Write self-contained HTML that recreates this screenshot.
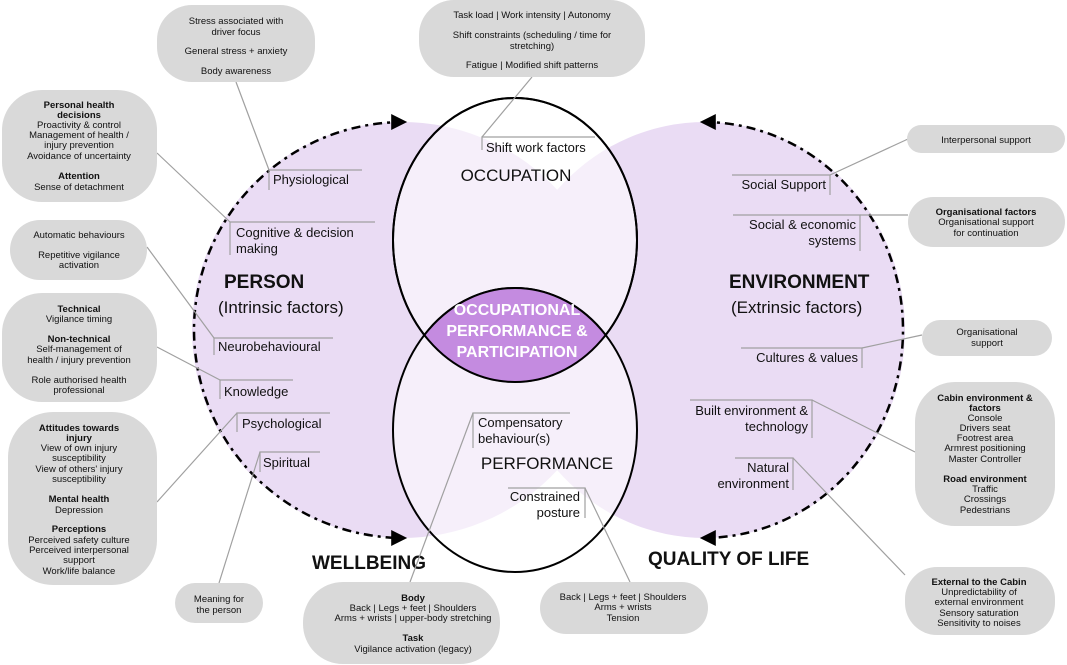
<!DOCTYPE html>
<html><head><meta charset="utf-8"><style>
html,body{margin:0;padding:0;background:#fff;}
svg{display:block;font-family:"Liberation Sans",Arial,sans-serif;}
.b{fill:#d9d9d9;}
.c{stroke:#a0a0a0;stroke-width:1.2;fill:none;}
.t{font-size:9.5px;fill:#111;text-anchor:middle;}
.tb{font-size:9.5px;fill:#111;text-anchor:middle;font-weight:bold;}
.l{font-size:13px;fill:#111;}
.r{font-size:13px;fill:#111;text-anchor:end;}
</style></head><body>
<svg width="1067" height="665" viewBox="0 0 1067 665" xmlns="http://www.w3.org/2000/svg">
<defs>
<marker id="a" viewBox="0 0 10 10" refX="8" refY="5" markerWidth="18" markerHeight="16" orient="auto-start-reverse" markerUnits="userSpaceOnUse"><path d="M0,0 L10,5 L0,10 z" fill="#000"/></marker>
</defs>
<ellipse cx="402" cy="330" rx="210" ry="208" fill="#eadcf4"/>
<ellipse cx="705" cy="330" rx="200" ry="208" fill="#eadcf4"/>
<ellipse cx="515" cy="240" rx="122" ry="142" fill="#fff" fill-opacity="0.55" stroke="#000" stroke-width="2"/>
<ellipse cx="515" cy="430" rx="122" ry="142" fill="#fff" fill-opacity="0.55" stroke="#000" stroke-width="2"/>
<clipPath id="cp"><ellipse cx="515" cy="240" rx="122" ry="142"/></clipPath>
<ellipse cx="515" cy="430" rx="122" ry="142" fill="#c48be0" stroke="#000" stroke-width="2" clip-path="url(#cp)"/>
<ellipse cx="515" cy="240" rx="122" ry="142" fill="none" stroke="#000" stroke-width="2"/>
<path d="M404,122 A210 208 0 0 0 404,538" fill="none" stroke="#000" stroke-width="2.5" stroke-dasharray="9,5,3,5" marker-start="url(#a)" marker-end="url(#a)"/>
<path d="M703,122 A200 208 0 0 1 703,538" fill="none" stroke="#000" stroke-width="2.5" stroke-dasharray="9,5,3,5" marker-start="url(#a)" marker-end="url(#a)"/>

<text x="516" y="181" font-size="17" text-anchor="middle" fill="#111">OCCUPATION</text>
<text x="547" y="469" font-size="17" text-anchor="middle" fill="#111">PERFORMANCE</text>
<g font-size="16" font-weight="bold" fill="#fff" text-anchor="middle">
<text x="517" y="315">OCCUPATIONAL</text>
<text x="517" y="336">PERFORMANCE &amp;</text>
<text x="517" y="357">PARTICIPATION</text>
</g>
<text x="224" y="288" font-size="19" font-weight="bold" fill="#111">PERSON</text>
<text x="218" y="313" font-size="17" fill="#111">(Intrinsic factors)</text>
<text x="729" y="288" font-size="19" font-weight="bold" fill="#111">ENVIRONMENT</text>
<text x="731" y="313" font-size="17" fill="#111">(Extrinsic factors)</text>
<text x="312" y="569" font-size="19" font-weight="bold" fill="#111">WELLBEING</text>
<text x="648" y="565" font-size="19" font-weight="bold" fill="#111">QUALITY OF LIFE</text>

<g class="c">
<path d="M482,150 V137 H595"/>
<path d="M269,190 V170 H362"/>
<path d="M230,255 V222 H375"/>
<path d="M214,355 V338 H333"/>
<path d="M220,399 V380 H293"/>
<path d="M237,432 V413 H330"/>
<path d="M260,472 V452 H320"/>
<path d="M473,448 V413 H570"/>
<path d="M508,488 H585 V518"/>
<path d="M732,175 H830 V195"/>
<path d="M733,215 H860 V251"/>
<path d="M741,348 H862 V368"/>
<path d="M690,400 H812 V438"/>
<path d="M735,458 H793 V490"/>
</g>
<g class="l">
<text x="486" y="152">Shift work factors</text>
<text x="273" y="184">Physiological</text>
<text x="236" y="237">Cognitive &amp; decision</text>
<text x="236" y="253">making</text>
<text x="218" y="351">Neurobehavioural</text>
<text x="224" y="396">Knowledge</text>
<text x="242" y="428">Psychological</text>
<text x="263" y="467">Spiritual</text>
<text x="478" y="427">Compensatory</text>
<text x="478" y="443">behaviour(s)</text>
</g>
<g class="r">
<text x="580" y="501">Constrained</text>
<text x="580" y="517">posture</text>
<text x="826" y="189">Social Support</text>
<text x="856" y="229">Social &amp; economic</text>
<text x="856" y="245">systems</text>
<text x="858" y="362">Cultures &amp; values</text>
<text x="808" y="415">Built environment &amp;</text>
<text x="808" y="431">technology</text>
<text x="789" y="472">Natural</text>
<text x="789" y="488">environment</text>
</g>

<g class="c">
<line x1="236" y1="82" x2="269" y2="170"/>
<line x1="532" y1="77" x2="482" y2="137"/>
<line x1="157" y1="153" x2="230" y2="222"/>
<line x1="147" y1="247" x2="214" y2="338"/>
<line x1="157" y1="347" x2="220" y2="380"/>
<line x1="157" y1="502" x2="237" y2="413"/>
<line x1="219" y1="583" x2="260" y2="452"/>
<line x1="410" y1="582" x2="473" y2="413"/>
<line x1="630" y1="582" x2="585" y2="488"/>
<line x1="908" y1="139" x2="830" y2="175"/>
<line x1="908" y1="215" x2="860" y2="215"/>
<line x1="922" y1="335" x2="862" y2="348"/>
<line x1="915" y1="452" x2="812" y2="400"/>
<line x1="905" y1="575" x2="793" y2="458"/>
</g>

<rect class="b" x="157" y="5" width="158" height="77" rx="35"/>
<text class="t" x="236" y="24">Stress associated with</text>
<text class="t" x="236" y="35">driver focus</text>
<text class="t" x="236" y="54">General stress + anxiety</text>
<text class="t" x="236" y="74">Body awareness</text>

<rect class="b" x="419" y="0" width="226" height="77" rx="35"/>
<text class="t" x="532" y="18">Task load | Work intensity | Autonomy</text>
<text class="t" x="532" y="38">Shift constraints (scheduling / time for</text>
<text class="t" x="532" y="49">stretching)</text>
<text class="t" x="532" y="68">Fatigue | Modified shift patterns</text>

<rect class="b" x="2" y="90" width="155" height="112" rx="40"/>
<text class="tb" x="79" y="108">Personal health</text>
<text class="tb" x="79" y="118">decisions</text>
<text class="t" x="79" y="128">Proactivity &amp; control</text>
<text class="t" x="79" y="138">Management of health /</text>
<text class="t" x="79" y="148">injury prevention</text>
<text class="t" x="79" y="159">Avoidance of uncertainty</text>
<text class="tb" x="79" y="179">Attention</text>
<text class="t" x="79" y="190">Sense of detachment</text>

<rect class="b" x="10" y="220" width="137" height="60" rx="30"/>
<text class="t" x="79" y="238">Automatic behaviours</text>
<text class="t" x="79" y="258">Repetitive vigilance</text>
<text class="t" x="79" y="268">activation</text>

<rect class="b" x="2" y="293" width="155" height="109" rx="40"/>
<text class="tb" x="79" y="312">Technical</text>
<text class="t" x="79" y="322">Vigilance timing</text>
<text class="tb" x="79" y="342">Non-technical</text>
<text class="t" x="79" y="352">Self-management of</text>
<text class="t" x="79" y="363">health / injury prevention</text>
<text class="t" x="79" y="383">Role authorised health</text>
<text class="t" x="79" y="393">professional</text>

<rect class="b" x="8" y="412" width="149" height="173" rx="45"/>
<text class="tb" x="79" y="431">Attitudes towards</text>
<text class="tb" x="79" y="441">injury</text>
<text class="t" x="79" y="451">View of own injury</text>
<text class="t" x="79" y="461">susceptibility</text>
<text class="t" x="79" y="472">View of others' injury</text>
<text class="t" x="79" y="482">susceptibility</text>
<text class="tb" x="79" y="502">Mental health</text>
<text class="t" x="79" y="513">Depression</text>
<text class="tb" x="79" y="532">Perceptions</text>
<text class="t" x="79" y="543">Perceived safety culture</text>
<text class="t" x="79" y="553">Perceived interpersonal</text>
<text class="t" x="79" y="563">support</text>
<text class="t" x="79" y="574">Work/life balance</text>

<rect class="b" x="175" y="583" width="88" height="40" rx="20"/>
<text class="t" x="219" y="602">Meaning for</text>
<text class="t" x="219" y="613">the person</text>

<rect class="b" x="303" y="582" width="197" height="82" rx="40"/>
<text class="tb" x="413" y="601">Body</text>
<text class="t" x="413" y="611">Back | Legs + feet | Shoulders</text>
<text class="t" x="413" y="621">Arms + wrists | upper-body stretching</text>
<text class="tb" x="413" y="641">Task</text>
<text class="t" x="413" y="652">Vigilance activation (legacy)</text>

<rect class="b" x="540" y="582" width="168" height="52" rx="26"/>
<text class="t" x="623" y="600">Back | Legs + feet | Shoulders</text>
<text class="t" x="623" y="610">Arms + wrists</text>
<text class="t" x="623" y="621">Tension</text>

<rect class="b" x="907" y="125" width="158" height="28" rx="14"/>
<text class="t" x="986" y="143">Interpersonal support</text>

<rect class="b" x="908" y="197" width="157" height="50" rx="25"/>
<text class="tb" x="986" y="215">Organisational factors</text>
<text class="t" x="986" y="225">Organisational support</text>
<text class="t" x="986" y="236">for continuation</text>

<rect class="b" x="922" y="320" width="130" height="36" rx="18"/>
<text class="t" x="987" y="335">Organisational</text>
<text class="t" x="987" y="346">support</text>

<rect class="b" x="915" y="382" width="140" height="144" rx="40"/>
<text class="tb" x="985" y="401">Cabin environment &amp;</text>
<text class="tb" x="985" y="411">factors</text>
<text class="t" x="985" y="421">Console</text>
<text class="t" x="985" y="431">Drivers seat</text>
<text class="t" x="985" y="441">Footrest area</text>
<text class="t" x="985" y="451">Armrest positioning</text>
<text class="t" x="985" y="462">Master Controller</text>
<text class="tb" x="985" y="482">Road environment</text>
<text class="t" x="985" y="492">Traffic</text>
<text class="t" x="985" y="502">Crossings</text>
<text class="t" x="985" y="513">Pedestrians</text>

<rect class="b" x="905" y="567" width="150" height="68" rx="32"/>
<text class="tb" x="979" y="585">External to the Cabin</text>
<text class="t" x="979" y="595">Unpredictability of</text>
<text class="t" x="979" y="605">external environment</text>
<text class="t" x="979" y="616">Sensory saturation</text>
<text class="t" x="979" y="626">Sensitivity to noises</text>
</svg>
</body></html>
